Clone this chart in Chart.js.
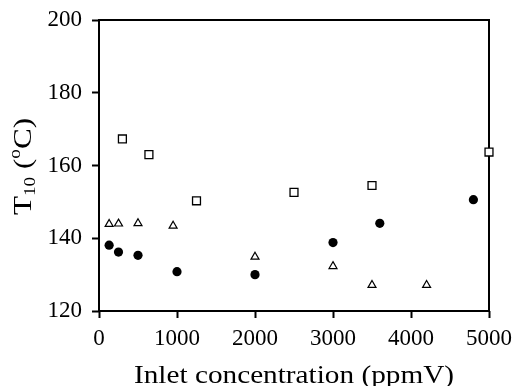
<!DOCTYPE html>
<html><head><meta charset="utf-8">
<script src="https://cdn.jsdelivr.net/npm/chart.js@4/dist/chart.umd.min.js"></script>
<style>html,body{margin:0;padding:0;background:#fff}#wrap{width:513px;height:386px}</style>
</head><body><div id="wrap"><canvas id="c" width="513" height="386"></canvas></div>
<script>
const xTicks=[0,1000,2000,3000,4000,5000];
const yTicks=[120,140,160,180,200];
const circleX=[130,250,500,1000,2000,3000,3600,4800];
const circleY=[138.1,136.2,135.3,130.8,130.0,138.8,144.1,150.6];
const squareX=[300,640,1250,2500,3500,5000];
const squareY=[167.3,163.0,150.3,152.6,154.5,163.7];
const triangleX=[130,250,500,950,2000,3000,3500,4200];
const triangleY=[143.9,144.0,144.1,143.4,134.9,132.3,127.1,127.1];
const xTitle='Inlet concentration (ppmV)';

const pts=(xs,ys)=>xs.map((x,i)=>({x:x,y:ys[i]}));
const serif='"Liberation Serif", "Times New Roman", serif';

const framePlugin={
  id:'frame',
  beforeDatasetsDraw(chart){
    const a=chart.chartArea, ctx=chart.ctx;
    ctx.save();
    ctx.strokeStyle='#000';ctx.lineWidth=2;
    ctx.strokeRect(a.left,a.top,a.right-a.left,a.bottom-a.top);
    ctx.restore();
  },
  afterDraw(chart){
    const ctx=chart.ctx, a=chart.chartArea;
    ctx.save();
    ctx.fillStyle='#000';
    ctx.font='26px '+serif;
    ctx.textBaseline='alphabetic';
    const w=ctx.measureText(xTitle).width;
    const cx=(a.left+a.right)/2;
    ctx.translate(cx,383);
    ctx.scale(320/w,1);
    ctx.textAlign='center';
    ctx.fillText(xTitle,0,0);
    ctx.restore();
    ctx.save();
    ctx.fillStyle='#000';
    ctx.textBaseline='alphabetic';
    const parts=[['T',26,0],['10',16,4],[' (',26,0],['o',16,-11],['C)',26,0]];
    let total=0;
    parts.forEach(p=>{ctx.font=p[1]+'px '+serif;total+=ctx.measureText(p[0]).width;});
    const target=97;
    ctx.translate(31,166.5);
    ctx.rotate(-Math.PI/2);
    ctx.scale(target/total,1);
    let x=-total/2;
    parts.forEach(p=>{ctx.font=p[1]+'px '+serif;ctx.fillText(p[0],x,p[2]);x+=ctx.measureText(p[0]).width;});
    ctx.restore();
  }
};

new Chart(document.getElementById('c'),{
  type:'scatter',
  data:{datasets:[
    {label:'squares',data:pts(squareX,squareY),pointStyle:'rect',pointRadius:5.6,pointHoverRadius:5.6,backgroundColor:'#fff',borderColor:'#000',borderWidth:1.3,clip:false},
    {label:'triangles',data:pts(triangleX,triangleY),pointStyle:'triangle',pointRadius:4.6,pointHoverRadius:4.6,backgroundColor:'#fff',borderColor:'#000',borderWidth:1.2,clip:false},
    {label:'circles',data:pts(circleX,circleY),pointStyle:'circle',pointRadius:4.6,pointHoverRadius:4.6,backgroundColor:'#000',borderColor:'#000',borderWidth:0,clip:false}
  ]},
  options:{
    responsive:false,animation:false,devicePixelRatio:1,
    layout:{padding:{top:20,right:24,left:0,bottom:0}},
    plugins:{legend:{display:false},tooltip:{enabled:false}},
    scales:{
      x:{type:'linear',min:0,max:5000,
        afterBuildTicks:s=>{s.ticks=xTicks.map(v=>({value:v}));},
        afterFit:s=>{s.height=75;s.paddingLeft=0;s.paddingRight=0;},
        border:{display:false},
        grid:{drawOnChartArea:false,drawTicks:true,tickLength:7,tickColor:'#000',tickWidth:2},
        ticks:{color:'#000',font:{family:serif,size:23},padding:7,maxRotation:0,callback:v=>String(v)}
      },
      y:{type:'linear',min:120,max:200,
        afterBuildTicks:s=>{s.ticks=yTicks.map(v=>({value:v}));},
        afterFit:s=>{s.width=99;s.paddingTop=0;s.paddingBottom=0;},
        border:{display:false},
        grid:{drawOnChartArea:false,drawTicks:true,tickLength:7,tickColor:'#000',tickWidth:2},
        ticks:{color:'#000',font:{family:serif,size:23},padding:10,callback:v=>String(v)}
      }
    }
  },
  plugins:[framePlugin]
});
</script></body></html>
